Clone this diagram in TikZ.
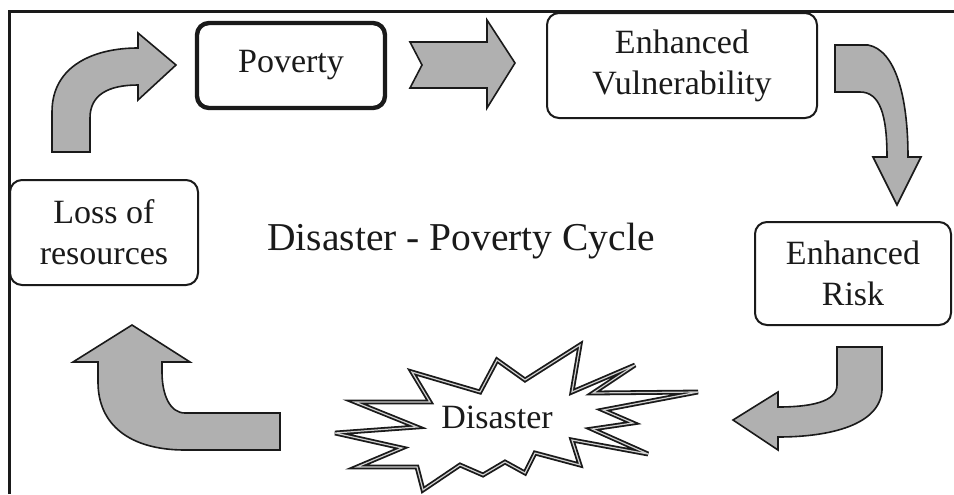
\documentclass[tikz,border=0pt]{standalone}
\usepackage{fontspec}
\setmainfont{Liberation Serif}
\usetikzlibrary{positioning}
\definecolor{CyInk}{HTML}{1A1A1A}
\definecolor{CyArrow}{HTML}{B0B0B0}
\tikzset{
  stage/.style={draw=CyInk,line width=1pt,fill=white,rounded corners=6pt,
                text=CyInk,inner sep=0pt,align=center,
                font=\fontsize{17}{20.5}\selectfont},
  stagebold/.style={stage,line width=2.2pt},
  blockarrow/.style={draw=CyInk,line width=0.8pt,fill=CyArrow,line join=miter},
  burst/.style={draw=CyInk,line width=0.9pt,double=CyArrow!60,double distance=0.6pt,
                fill=white,line join=miter,miter limit=6},
  frameline/.style={CyInk,line width=1.5pt},
  headline/.style={text=CyInk,inner sep=0pt,font=\fontsize{19.75}{23}\selectfont},
  burstlabel/.style={text=CyInk,inner sep=0pt,font=\fontsize{17}{20.5}\selectfont},
}

\begin{document}
\begin{tikzpicture}[x=0.5pt,y=-0.5pt]
    \useasboundingbox (0,0) rectangle (954,494);
    % open frame: only the left and top edges are visible
    \draw[frameline] (9.5,494) -- (9.5,11.5) -- (954,11.5);

    % the four stages around the cycle
    \node[stagebold,minimum width=94pt,minimum height=42.5pt] (poverty) at (291,65.5) {Poverty};
    \node[stage,minimum width=135pt,minimum height=52.5pt]   (vuln)    at (682,65.5) {Enhanced\\Vulnerability};
    \node[stage,minimum width=98pt,minimum height=51.5pt]    (risk)    at (853,273.5) {Enhanced\\Risk};
    \node[stage,minimum width=94pt,minimum height=52.5pt]    (loss)    at (104,232.5) {Loss of\\resources};

    \node[headline] (title) at (461,241) {Disaster - Poverty Cycle};

    % disaster explosion
    \draw[burst] (335,433) -- (417,427) -- (355,402) -- (430,402) -- (412,372) -- (480,392)
      -- (497,360) -- (525,380) -- (580,345) -- (572,392) -- (635,365) -- (593,393)
      -- (698,392) -- (603,410) -- (633,423) -- (592,429) -- (648,454) -- (572,440)
      -- (580,465) -- (535,453) -- (525,473) -- (505,462) -- (483,475) -- (460,465)
      -- (423,490) -- (417,467) -- (357,467) -- (402,448) -- cycle;
    \node[burstlabel] (disaster) at (497,417) {Disaster};

    % block arrows, clockwise from the top left
    \draw[blockarrow] (52,152) -- (52,112) .. controls (52,65) and (95,48) .. (138,48)
      -- (138,33) -- (176,65) -- (138,100) -- (138,85)
      .. controls (108,85) and (90,95) .. (90,118) -- (90,152) -- cycle;
    \draw[blockarrow] (410,42) -- (487,42) -- (487,20) -- (515,63) -- (487,108)
      -- (487,88) -- (410,88) -- (422,65) -- cycle;
    \draw[blockarrow] (835,45) -- (868,45) .. controls (895,50) and (908,95) .. (908,157)
      -- (921,157) -- (897,205) -- (873,157) -- (887,157)
      .. controls (887,115) and (880,92) .. (860,92) -- (835,92) -- cycle;
    \draw[blockarrow] (837,347) -- (882,347) -- (882,390)
      .. controls (880,425) and (830,437) .. (778,437) -- (778,450) -- (733,420)
      -- (778,392) -- (778,407) .. controls (810,407) and (837,402) .. (837,385) -- cycle;
    \draw[blockarrow] (280,413) -- (185,413) .. controls (170,413) and (162,395) .. (162,372)
      -- (162,362) -- (190,362) -- (132,325) -- (73,362) -- (98,362) -- (98,382)
      .. controls (98,425) and (130,450) .. (185,450) -- (280,450) -- cycle;
\end{tikzpicture}
\end{document}
